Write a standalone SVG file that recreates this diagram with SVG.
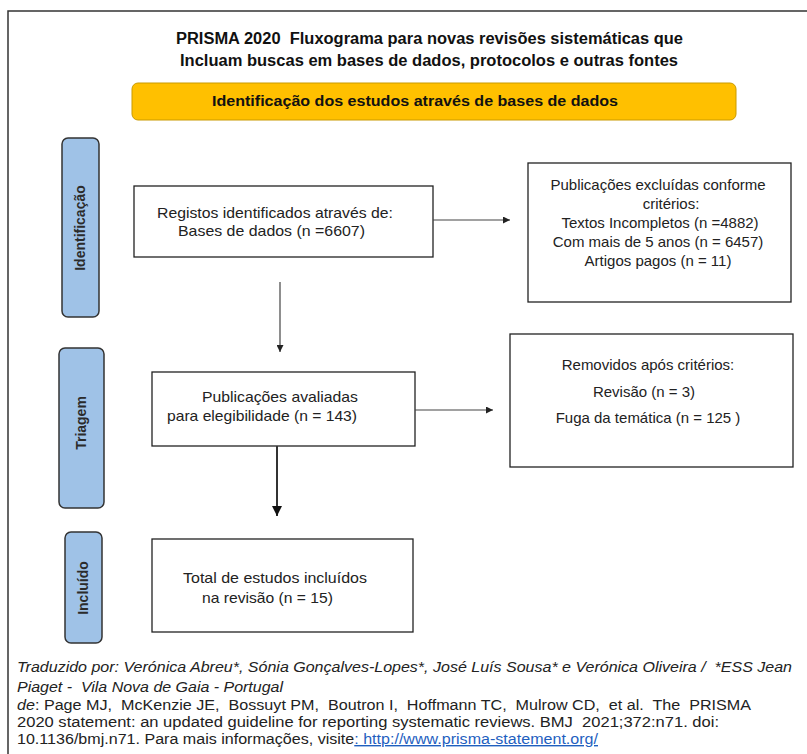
<svg xmlns="http://www.w3.org/2000/svg" width="807" height="754" viewBox="0 0 807 754">
<defs>
<style>
.frame{fill:#fff;stroke:#333;stroke-width:1.5}
.box{fill:#fff;stroke:#222;stroke-width:1.3}
.side{fill:#9fc2e7;stroke:#333;stroke-width:1.5}
.sideT{font-family:"Liberation Sans",Arial,sans-serif;font-size:14px;font-weight:bold;fill:#2b2b2b;text-anchor:middle}
.t{font-family:"Liberation Sans",Arial,sans-serif;font-size:15px;fill:#222}
.c{text-anchor:middle}
.title{font-family:"Liberation Sans",Arial,sans-serif;font-size:16px;font-weight:bold;fill:#111}
.bar{fill:#ffc000;stroke:#c99a00;stroke-width:1}
.barT{font-family:"Liberation Sans",Arial,sans-serif;font-size:14px;font-weight:bold;fill:#111}
.foot{font-family:"Liberation Sans",Arial,sans-serif;font-size:14px;fill:#222}
.it{font-style:italic}
.ln{stroke:#444;stroke-width:1.2;fill:none}
.lnb{stroke:#333;stroke-width:2;fill:none}
.link{fill:#1f5fbf;text-decoration:underline}
</style>
<marker id="ah" viewBox="0 0 10 10" refX="10" refY="5" markerWidth="9" markerHeight="7" markerUnits="userSpaceOnUse" orient="auto">
<path d="M0,0 L10,5 L0,10 z" fill="#222"/>
</marker>
<marker id="ahb" viewBox="0 0 10 10" refX="10" refY="5" markerWidth="10" markerHeight="12" markerUnits="userSpaceOnUse" orient="auto">
<path d="M0,0 L10,5 L0,10 z" fill="#111"/>
</marker>
</defs>
<rect x="0" y="0" width="807" height="754" fill="#fff"/>
<rect class="frame" x="8" y="11" width="820" height="770"/>

<g id="title">
<text class="title" x="176" y="44" textLength="507" lengthAdjust="spacingAndGlyphs" xml:space="preserve">PRISMA 2020  Fluxograma para novas revisões sistemáticas que</text>
<text class="title" x="180" y="66" textLength="498" lengthAdjust="spacingAndGlyphs">Incluam buscas em bases de dados, protocolos e outras fontes</text>
</g>

<g id="header-bar">
<rect class="bar" x="132" y="83" width="604" height="37" rx="6"/>
<text class="barT" x="212" y="106" textLength="406" lengthAdjust="spacingAndGlyphs">Identificação dos estudos através de bases de dados</text>
</g>

<g id="side-identificacao">
<rect class="side" x="62" y="138" width="37" height="179" rx="6"/>
<text class="sideT" transform="translate(85,228) rotate(-90)">Identificação</text>
</g>
<g id="side-triagem">
<rect class="side" x="59" y="348" width="45" height="160" rx="6"/>
<text class="sideT" transform="translate(86,423) rotate(-90)">Triagem</text>
</g>
<g id="side-incluido">
<rect class="side" x="65" y="532" width="37" height="111" rx="6"/>
<text class="sideT" transform="translate(88,588) rotate(-90)">Incluído</text>
</g>

<g id="registos">
<rect class="box" x="134" y="186" width="299" height="71"/>
<text class="t" x="157" y="218" textLength="236" lengthAdjust="spacingAndGlyphs">Registos identificados através de:</text>
<text class="t" x="178" y="236" textLength="187" lengthAdjust="spacingAndGlyphs">Bases de dados (n =6607)</text>
</g>

<g id="excluidas">
<rect class="box" x="528" y="163" width="263" height="139"/>
<text class="t c" x="658" y="190">Publicações excluídas conforme</text>
<text class="t c" x="671" y="209">critérios:</text>
<text class="t c" x="660" y="228">Textos Incompletos (n =4882)</text>
<text class="t c" x="658" y="247">Com mais de 5 anos (n = 6457)</text>
<text class="t c" x="658" y="266">Artigos pagos (n = 11)</text>
</g>

<g id="avaliadas">
<rect class="box" x="152" y="372" width="263" height="74"/>
<text class="t" x="202" y="402" textLength="156" lengthAdjust="spacingAndGlyphs">Publicações avaliadas</text>
<text class="t" x="167" y="421" textLength="190" lengthAdjust="spacingAndGlyphs">para elegibilidade (n = 143)</text>
</g>

<g id="removidos">
<rect class="box" x="510" y="334" width="283" height="133"/>
<text class="t c" x="648" y="370">Removidos após critérios:</text>
<text class="t c" x="644" y="397">Revisão (n = 3)</text>
<text class="t c" x="648" y="423">Fuga da temática (n = 125 )</text>
</g>

<g id="total">
<rect class="box" x="152" y="539" width="261" height="93"/>
<text class="t" x="183" y="583" textLength="184" lengthAdjust="spacingAndGlyphs">Total de estudos incluídos</text>
<text class="t" x="202" y="603" textLength="131" lengthAdjust="spacingAndGlyphs">na revisão (n = 15)</text>
</g>

<g id="connectors">
<line class="ln" x1="433" y1="220" x2="510" y2="220" marker-end="url(#ah)"/>
<line class="ln" x1="280" y1="282" x2="280" y2="352" marker-end="url(#ah)"/>
<line class="ln" x1="415" y1="410" x2="493" y2="410" marker-end="url(#ah)"/>
<line class="lnb" x1="277" y1="446" x2="277" y2="516" marker-end="url(#ahb)"/>
</g>

<g id="footer">
<text class="foot it" x="17" y="672" textLength="775" lengthAdjust="spacingAndGlyphs" xml:space="preserve">Traduzido por: Verónica Abreu*, Sónia Gonçalves-Lopes*, José Luís Sousa* e Verónica Oliveira /  *ESS Jean</text>
<text class="foot it" x="17" y="692" textLength="266" lengthAdjust="spacingAndGlyphs" xml:space="preserve">Piaget -  Vila Nova de Gaia - Portugal</text>
<text class="foot" x="17" y="710" textLength="734" lengthAdjust="spacingAndGlyphs" xml:space="preserve"><tspan class="it">de</tspan>: Page MJ,  McKenzie JE,  Bossuyt PM,  Boutron I,  Hoffmann TC,  Mulrow CD,  et al.  The  PRISMA</text>
<text class="foot" x="17" y="727" textLength="702" lengthAdjust="spacingAndGlyphs" xml:space="preserve">2020 statement: an updated guideline for reporting systematic reviews. BMJ  2021;372:n71. doi:</text>
<text class="foot" x="17" y="744" textLength="581" lengthAdjust="spacingAndGlyphs">10.1136/bmj.n71. Para mais informações, visite<tspan class="link">: http://www.prisma-statement.org/</tspan></text>
</g>
</svg>
